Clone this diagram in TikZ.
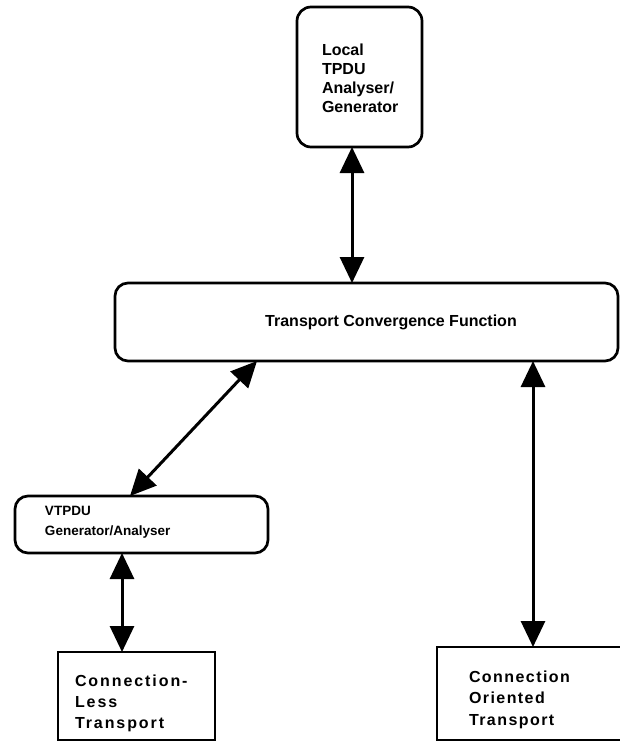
\documentclass[tikz,border=0pt]{standalone}
\usepackage{fontspec}
\setmainfont{Liberation Sans}
\usetikzlibrary{arrows.meta}
\begin{document}
\begin{tikzpicture}[x=1pt,y=-1pt,
  box/.style={draw, line width=2.7pt, inner sep=0pt, outer sep=0pt},
  rbox/.style={box, rounded corners=13pt},
  lbl/.style={inner sep=0pt, outer sep=0pt, anchor=west, align=left},
  fbig/.style={font=\bfseries\fontsize{16}{19.3}\selectfont},
  dbl/.style={line width=3pt, {Triangle[width=24pt,length=26pt]}-{Triangle[width=24pt,length=26pt]}}]
\clip (0,0) rectangle (620,742);
\fill[white] (0,0) rectangle (620,742);
% boxes
\node[rbox, minimum width=125pt, minimum height=140pt, rounded corners=14pt] (top) at (359.5,77) {};
\node[rbox, minimum width=503pt, minimum height=78pt] (tcf) at (366.5,322) {};
\node[rbox, minimum width=253pt, minimum height=57pt] (vtpdu) at (141.5,524.5) {};
\node[box, minimum width=157pt, minimum height=88pt] (lbox) at (136.5,696) {};
\node[box, minimum width=200pt, minimum height=93pt] (rbox) at (537,693.5) {};
% texts
\node[lbl, fbig] (toptext) at (322,78.3) {Local\\TPDU\\Analyser/\\Generator};
\node[inner sep=0pt, fbig] (tcftext) at (391,322) {Transport Convergence Function};
\node[lbl, font=\bfseries\fontsize{13.5}{20}\selectfont] (vtext) at (45,522.5) {VTPDU\\Generator/Analyser};
\node[lbl, font=\bfseries\fontsize{16}{21}\selectfont\addfontfeatures{LetterSpace=12}] (ltext) at (75,703.6) {Connection-\\Less\\Transport};
\node[lbl, font=\bfseries\fontsize{16}{21.5}\selectfont\addfontfeatures{LetterSpace=9}] (rtext) at (469,699.4) {Connection\\Oriented\\Transport};
% connectors
\draw[dbl] (352,0 |- top.south) -- (352,0 |- tcf.north);
\draw[dbl] (257,0 |- tcf.south) -- (130,0 |- vtpdu.north);
\draw[dbl] (533,0 |- tcf.south) -- (533,0 |- rbox.north);
\draw[dbl] (122,0 |- vtpdu.south) -- (122,0 |- lbox.north);
\end{tikzpicture}
\end{document}
